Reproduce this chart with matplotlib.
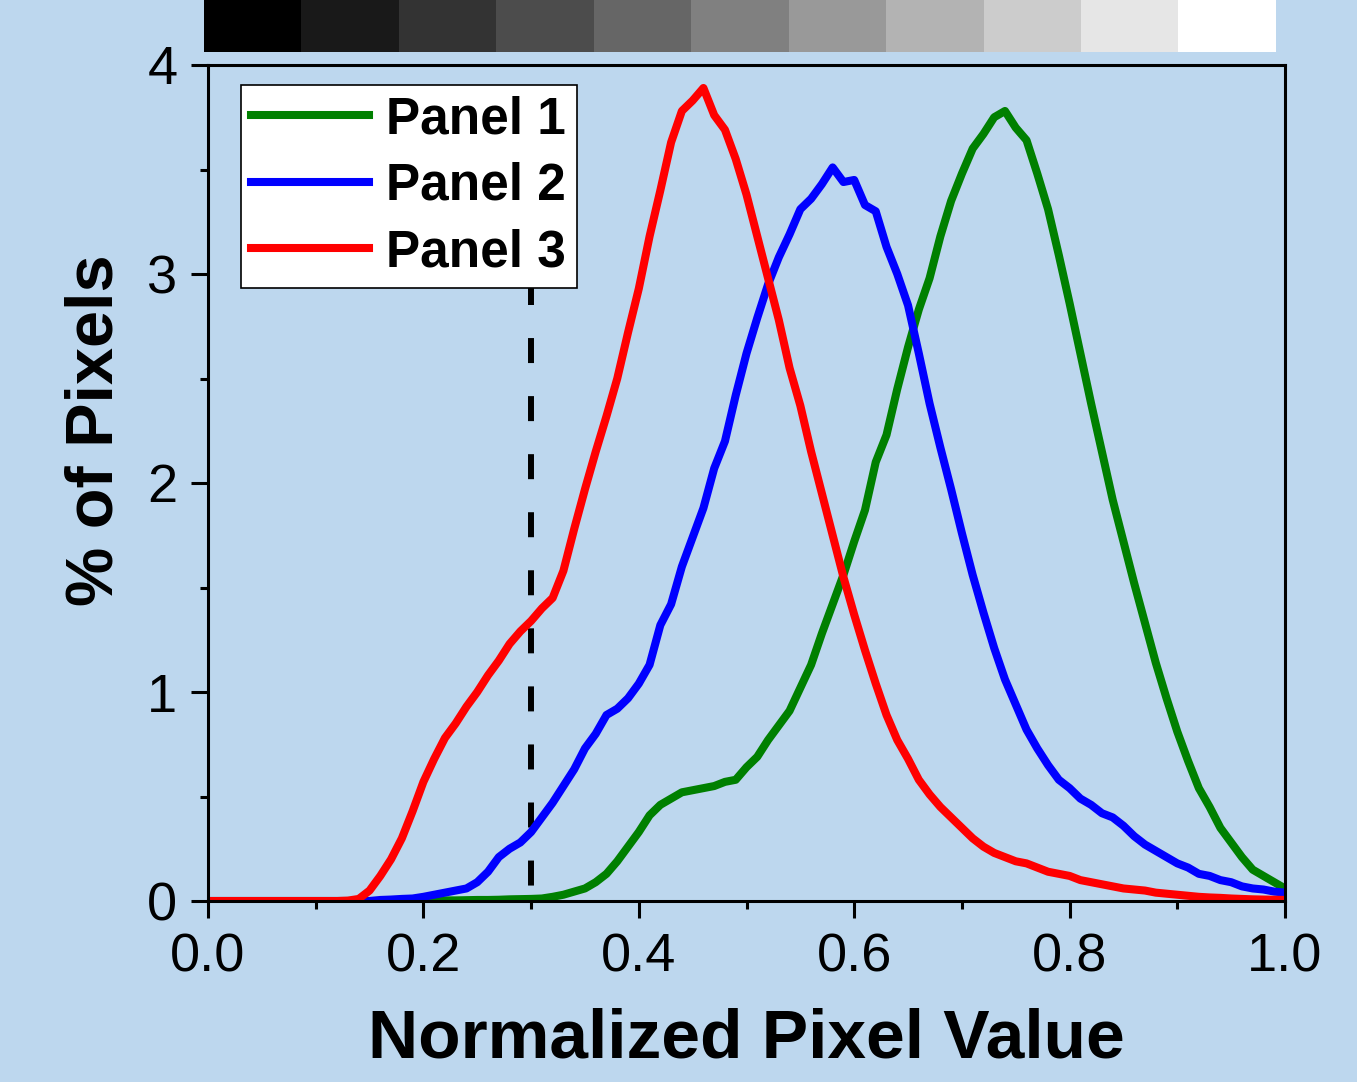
import numpy as np
import matplotlib
matplotlib.use("Agg")
import matplotlib.pyplot as plt

plt.rcParams['font.family'] = ['Liberation Sans', 'DejaVu Sans']
plt.rcParams['lines.scale_dashes'] = False

BG = '#BDD7EE'

# Normalized pixel value grid (x) and histogram percentages per panel
x_vals = [0.00, 0.02, 0.04, 0.06, 0.08, 0.10, 0.12, 0.13, 0.14, 0.15, 0.16, 0.17, 0.18, 0.19,
          0.20, 0.21, 0.22, 0.23, 0.24, 0.25, 0.26, 0.27, 0.28, 0.29, 0.30, 0.31, 0.32, 0.33,
          0.34, 0.35, 0.36, 0.37, 0.38, 0.39, 0.40, 0.41, 0.42, 0.43, 0.44, 0.45, 0.46, 0.47,
          0.48, 0.49, 0.50, 0.51, 0.52, 0.53, 0.54, 0.55, 0.56, 0.57, 0.58, 0.59, 0.60, 0.61,
          0.62, 0.63, 0.64, 0.65, 0.66, 0.67, 0.68, 0.69, 0.70, 0.71, 0.72, 0.73, 0.74, 0.75,
          0.76, 0.77, 0.78, 0.79, 0.80, 0.81, 0.82, 0.83, 0.84, 0.85, 0.86, 0.87, 0.88, 0.89,
          0.90, 0.91, 0.92, 0.93, 0.94, 0.95, 0.96, 0.97, 0.98, 0.99, 1.00]

panel1 = [0.00, 0.00, 0.00, 0.00, 0.00, 0.00, 0.00, 0.00, 0.00, 0.00, 0.00, 0.00, 0.00, 0.00,
          0.00, 0.00, 0.003, 0.003, 0.004, 0.005, 0.005, 0.006, 0.008, 0.009, 0.01, 0.012, 0.02, 0.03,
          0.045, 0.06, 0.09, 0.13, 0.19, 0.26, 0.33, 0.41, 0.46, 0.49, 0.52, 0.53, 0.54, 0.55,
          0.57, 0.58, 0.64, 0.69, 0.77, 0.84, 0.91, 1.02, 1.13, 1.28, 1.42, 1.56, 1.72, 1.87,
          2.10, 2.23, 2.45, 2.65, 2.83, 2.98, 3.18, 3.35, 3.48, 3.60, 3.67, 3.75, 3.78, 3.70,
          3.64, 3.48, 3.31, 3.09, 2.86, 2.62, 2.38, 2.15, 1.92, 1.72, 1.52, 1.33, 1.14, 0.97,
          0.81, 0.67, 0.54, 0.45, 0.35, 0.28, 0.21, 0.15, 0.12, 0.09, 0.06]

panel2 = [0.00, 0.00, 0.00, 0.00, 0.00, 0.00, 0.00, 0.00, 0.00, 0.00, 0.005, 0.007, 0.01, 0.012,
          0.02, 0.03, 0.04, 0.05, 0.06, 0.09, 0.14, 0.21, 0.25, 0.28, 0.33, 0.40, 0.47, 0.55,
          0.63, 0.73, 0.80, 0.89, 0.92, 0.97, 1.04, 1.13, 1.32, 1.42, 1.60, 1.74, 1.88, 2.07,
          2.20, 2.42, 2.62, 2.79, 2.95, 3.08, 3.19, 3.31, 3.36, 3.43, 3.51, 3.44, 3.45, 3.33,
          3.30, 3.13, 3.00, 2.85, 2.62, 2.38, 2.17, 1.97, 1.76, 1.56, 1.38, 1.21, 1.06, 0.94,
          0.82, 0.73, 0.65, 0.58, 0.54, 0.49, 0.46, 0.42, 0.40, 0.36, 0.31, 0.27, 0.24, 0.21,
          0.18, 0.16, 0.13, 0.12, 0.10, 0.09, 0.07, 0.06, 0.055, 0.045, 0.04]

panel3 = [0.00, 0.00, 0.00, 0.00, 0.00, 0.00, 0.00, 0.002, 0.01, 0.05, 0.12, 0.20, 0.30, 0.43,
          0.57, 0.68, 0.78, 0.85, 0.93, 1.00, 1.08, 1.15, 1.23, 1.29, 1.34, 1.40, 1.45, 1.58,
          1.78, 1.97, 2.15, 2.32, 2.50, 2.72, 2.93, 3.18, 3.40, 3.63, 3.78, 3.83, 3.89, 3.76,
          3.69, 3.55, 3.38, 3.18, 2.98, 2.78, 2.55, 2.37, 2.15, 1.95, 1.75, 1.55, 1.37, 1.20,
          1.04, 0.89, 0.77, 0.68, 0.58, 0.51, 0.45, 0.40, 0.35, 0.30, 0.26, 0.23, 0.21, 0.19,
          0.18, 0.16, 0.14, 0.13, 0.12, 0.10, 0.09, 0.08, 0.07, 0.06, 0.055, 0.05, 0.04, 0.035,
          0.03, 0.025, 0.02, 0.017, 0.015, 0.012, 0.01, 0.008, 0.007, 0.006, 0.005]

series_labels = ['Panel 1', 'Panel 2', 'Panel 3']
series_colors = ['#008000', '#0000FF', '#FF0000']

threshold_x = 0.3
threshold_top = 2.97

gray_levels = [0.0, 0.1, 0.2, 0.3, 0.4, 0.5, 0.6, 0.7, 0.8, 0.9, 1.0]

x_ticks = [0.0, 0.2, 0.4, 0.6, 0.8, 1.0]
y_ticks = [0, 1, 2, 3, 4]

W, H = 1357, 1082
fig = plt.figure(figsize=(W / 100, H / 100), dpi=100, facecolor=BG)

# gray-scale reference strip along the top
ax_bar = fig.add_axes([204 / W, 1 - 52 / H, (1276 - 204) / W, 52 / H])
ax_bar.imshow(np.array(gray_levels)[None, :], cmap='gray', vmin=0, vmax=1,
              aspect='auto', interpolation='nearest')
ax_bar.set_axis_off()

# main histogram axes
ax = fig.add_axes([208 / W, 1 - 901 / H, (1285 - 208) / W, (901 - 65) / H])
ax.set_facecolor(BG)

LW = 5.8
for ys, lab, col in zip([panel1, panel2, panel3], series_labels, series_colors):
    ax.plot(x_vals, ys, color=col, lw=LW, label=lab, solid_joinstyle='round')

ax.plot([threshold_x, threshold_x], [threshold_top, 0], color='black', lw=4.3,
        dashes=(18, 23.8), zorder=1.5)

ax.set_xlim(0, 1)
ax.set_ylim(0, 4)
ax.set_xticks(x_ticks)
ax.set_xticklabels([f'{v:.1f}' for v in x_ticks])
ax.set_yticks(y_ticks)
ax.set_yticklabels([str(v) for v in y_ticks])
ax.set_xticks(np.arange(0.1, 1.0, 0.2), minor=True)
ax.set_yticks(np.arange(0.5, 4.0, 1.0), minor=True)

ax.tick_params(which='major', direction='out', length=12, width=2.2, labelsize=39,
               top=False, right=False)
ax.tick_params(which='minor', direction='out', length=6, width=2.2, top=False, right=False)
ax.tick_params(axis='x', which='major', pad=11)
ax.tick_params(axis='y', which='major', pad=10)
for sp in ax.spines.values():
    sp.set_linewidth(2.2)

ax.set_xlabel('Normalized Pixel Value', fontsize=50, fontweight='bold', labelpad=18)
ax.set_ylabel('% of Pixels', fontsize=48, fontweight='bold')
ax.yaxis.set_label_coords(-0.076, (901 - 430) / 836)

leg = ax.legend(loc='upper left', bbox_to_anchor=((241 - 208) / 1077, (901 - 85) / 836),
                borderaxespad=0, prop={'weight': 'bold', 'size': 37},
                handlelength=2.3, handletextpad=0.33, labelspacing=0.34,
                borderpad=0.2, fancybox=False, framealpha=1, frameon=True)
leg.get_frame().set_edgecolor('black')
leg.get_frame().set_linewidth(1.2)
leg.get_frame().set_facecolor('white')
for line in leg.get_lines():
    line.set_linewidth(LW)

fig.savefig('out.png', dpi=100, facecolor=BG)
